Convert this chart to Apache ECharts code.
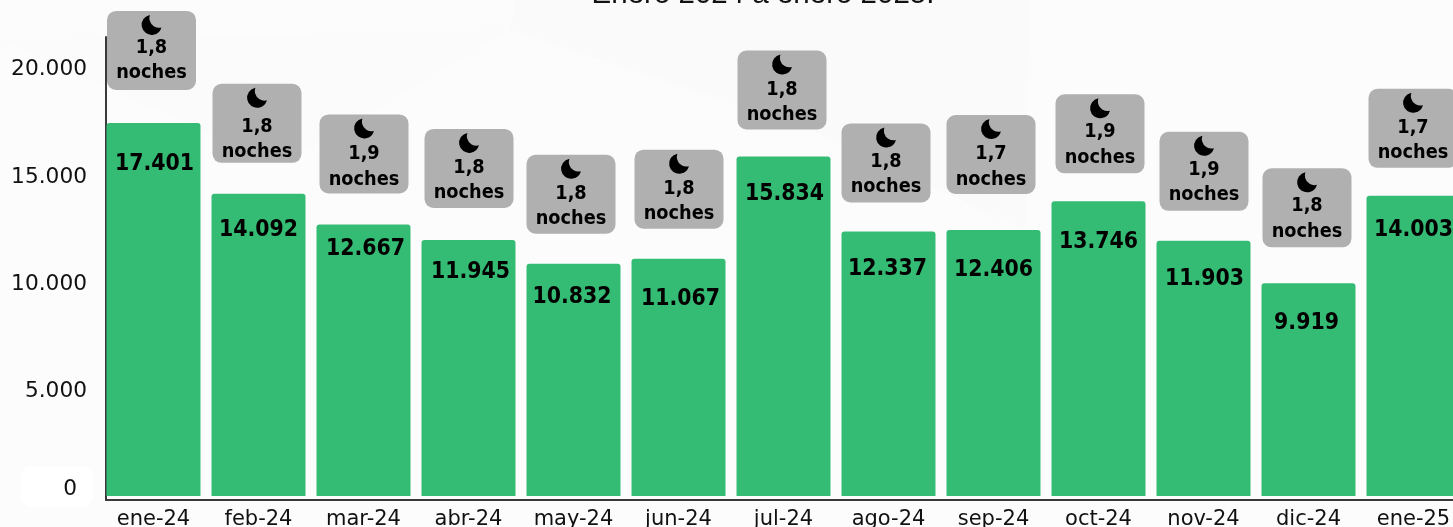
<!DOCTYPE html>
<html>
<head>
<meta charset="utf-8">
<title>Noches</title>
<script src="https://cdn.jsdelivr.net/npm/echarts@6/dist/echarts.min.js"></script>
<style>
  html, body { margin: 0; padding: 0; background: #fcfcfc; }
  #chart { width: 1453px; height: 527px; }
</style>
</head>
<body>
<div id="chart"></div>
<script>
const months = ["ene-24", "feb-24", "mar-24", "abr-24", "may-24", "jun-24", "jul-24", "ago-24", "sep-24", "oct-24", "nov-24", "dic-24", "ene-25"];
const visitors = [17401, 14092, 12667, 11945, 10832, 11067, 15834, 12337, 12406, 13746, 11903, 9919, 14003];
const nights = [1.8, 1.8, 1.9, 1.8, 1.8, 1.8, 1.8, 1.8, 1.7, 1.9, 1.9, 1.8, 1.7];
const yTicks = [5000, 10000, 15000, 20000];
const titleText = "Enero 2024 a enero 2025.";

const FONT = '"DejaVu Sans", sans-serif';
const MOON = "M8 0A10.5 10.5 0 1 0 20 13A10 10 0 0 1 8 0Z";

// hand placement of the badges and labels, the source has them slightly off centre
const badgeShiftX = [-2, -1.5, 0.5, 0.5, -2.5, 0.5, -1.5, -2.5, -2.5, 1.5, 0.5, -1.5, -0.5];
const badgeGap = [33, 31, 31, 32, 30, 30, 27, 29, 36, 28, 30, 36, 28];
const badgeTextShift = [-2, 4, 1, 0, 0, 0, 0, -1, 0, -1, -1, -1, 0];
const labelShiftX = [1, 0, 2, 2, -1.5, 2, 1, -1, 0, 0, 1, -2, 0];
const labelDrop = [39, 34, 23, 30, 31, 38, 36, 36, 38, 39, 36, 38, 32];

function dotted(v) {
  return String(v).replace(/\B(?=(\d{3})+$)/g, ".");
}

// the source text is a bit narrower than DejaVu, so squeeze it horizontally
function squeezed(text, x, y, size) {
  return {
    type: "text",
    x: x,
    y: y,
    scaleX: 0.91,
    style: {
      text: text,
      align: "center",
      verticalAlign: "middle",
      fill: "#000",
      font: "bold " + size + "px " + FONT,
    },
  };
}

function renderBadge(params, api) {
  const i = params.dataIndex;
  const pos = api.coord([api.value(0), api.value(1)]);
  const cx = pos[0] + badgeShiftX[i];
  const top = pos[1] - badgeGap[i] - 79;
  const textY = top + badgeTextShift[i];
  return {
    type: "group",
    children: [
      {
        type: "rect",
        shape: { x: cx - 44.5, y: top, width: 89, height: 79, r: 9 },
        style: { fill: "#b0b0b0" },
      },
      {
        type: "path",
        shape: { pathData: MOON, x: cx - 10, y: top + 4, width: 20, height: 20 },
        style: { fill: "#000" },
      },
      squeezed(String(api.value(2)).replace(".", ","), cx, textY + 39, 19.5),
      squeezed("noches", cx, textY + 64.5, 19.5),
      squeezed(dotted(api.value(1)), pos[0] + labelShiftX[i], pos[1] + labelDrop[i] + 2, 22.5),
    ],
  };
}

const chart = echarts.init(document.getElementById("chart"));

chart.setOption({
  animation: false,
  backgroundColor: "transparent",
  textStyle: { fontFamily: FONT },
  title: {
    text: titleText,
    left: 758,
    top: -25,
    textAlign: "center",
    textStyle: { fontFamily: '"Liberation Sans", sans-serif', fontSize: 29.5, fontWeight: "normal", color: "#111" },
  },
  grid: [
    { left: 101, width: 1365, top: 37, bottom: 31, outerBoundsMode: "none" },
    { left: 106, right: 0, top: 37, bottom: 27, outerBoundsMode: "none" },
  ],
  xAxis: [
    {
      type: "category",
      data: months,
      gridIndex: 0,
      axisLine: { show: false },
      axisTick: { show: false },
      axisLabel: { fontSize: 21, color: "#111", margin: 13, interval: 0 },
    },
    {
      type: "value",
      gridIndex: 1,
      min: 0,
      max: 1,
      splitLine: { show: false },
      axisTick: { show: false },
      axisLabel: { show: false },
      axisLine: { show: true, lineStyle: { color: "#3a3a3a", width: 2 } },
    },
  ],
  yAxis: [
    {
      type: "value",
      gridIndex: 0,
      min: 0,
      max: 21408,
      splitLine: { show: false },
      axisLine: { show: false },
      axisTick: { show: false },
      axisLabel: {
        customValues: yTicks,
        formatter: dotted,
        fontSize: 21.7,
        color: "#111",
        margin: 14,
        verticalAlign: "top",
        lineHeight: 5,
      },
    },
    {
      type: "value",
      gridIndex: 1,
      min: 0,
      max: 1,
      splitLine: { show: false },
      axisTick: { show: false },
      axisLabel: { show: false },
      axisLine: { show: true, lineStyle: { color: "#3a3a3a", width: 2 } },
    },
  ],
  series: [
    {
      type: "bar",
      xAxisIndex: 0,
      yAxisIndex: 0,
      barWidth: 94,
      itemStyle: { color: "#35bc74", borderRadius: [3, 3, 0, 0] },
      data: visitors,
    },
    {
      type: "custom",
      xAxisIndex: 0,
      yAxisIndex: 0,
      clip: false,
      z: 5,
      renderItem: renderBadge,
      encode: { x: 0, y: 1 },
      data: visitors.map((v, i) => [i, v, nights[i]]),
    },
  ],
  graphic: [
    {
      type: "polygon",
      z: -10,
      shape: { points: [[515, 0], [510, 30], [800, 125], [1025, 230], [1030, 0]] },
      style: { fill: "#fafafa" },
    },
    {
      type: "polygon",
      z: -10,
      shape: { points: [[0, 40], [510, 30], [280, 165]] },
      style: { fill: "#fbfbfb" },
    },
    {
      type: "rect",
      z: 0,
      shape: { x: 21, y: 466, width: 72, height: 41, r: 10 },
      style: { fill: "#ffffff" },
    },
    {
      type: "text",
      z: 1,
      style: {
        text: "0",
        x: 77, y: 489,
        align: "right", verticalAlign: "middle",
        fill: "#111", font: "21.7px " + FONT,
      },
    },
  ],
});

window.addEventListener("resize", () => chart.resize());
</script>
</body>
</html>
